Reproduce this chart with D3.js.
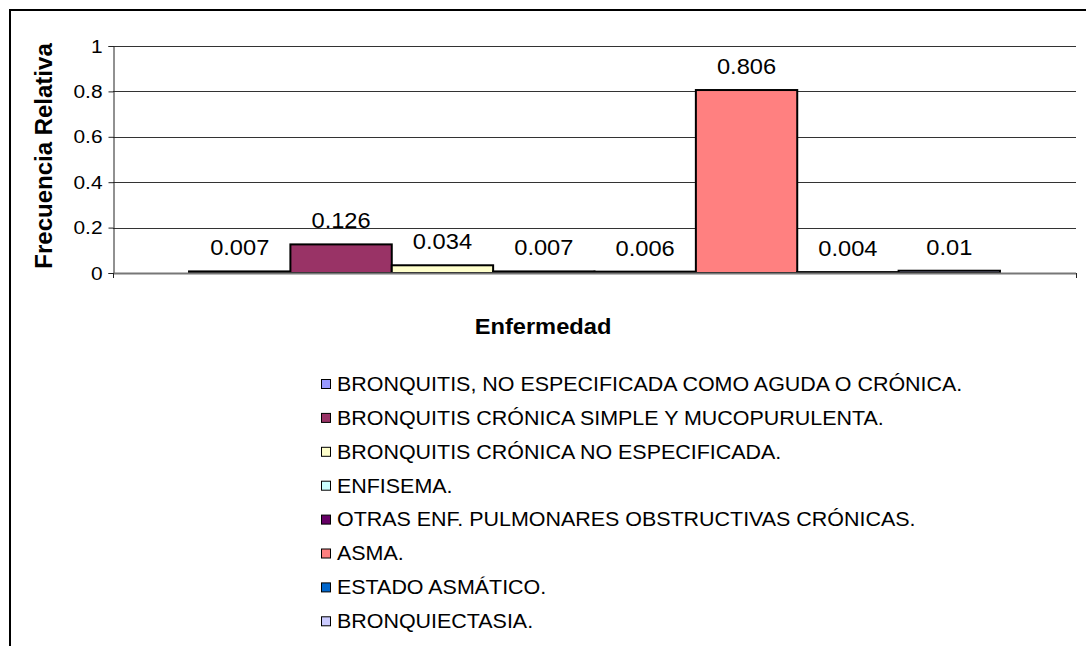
<!DOCTYPE html>
<html>
<head>
<meta charset="utf-8">
<script src="https://cdn.jsdelivr.net/npm/d3@7"></script>
<style>
  body { margin: 0; background: #fff; }
  text { font-family: Arial, "Liberation Sans", sans-serif; }
</style>
</head>
<body>
<div id="chart"></div>
<script>
// data
var categories = ["BRONQUITIS, NO ESPECIFICADA COMO AGUDA O CRÓNICA.",
                  "BRONQUITIS CRÓNICA SIMPLE Y MUCOPURULENTA.",
                  "BRONQUITIS CRÓNICA NO ESPECIFICADA.",
                  "ENFISEMA.",
                  "OTRAS ENF. PULMONARES OBSTRUCTIVAS CRÓNICAS.",
                  "ASMA.",
                  "ESTADO ASMÁTICO.",
                  "BRONQUIECTASIA."];
var values = [0.007, 0.126, 0.034, 0.007, 0.006, 0.806, 0.004, 0.01];
var colors = ["#9999FF", "#993366", "#FFFFCC", "#CCFFFF", "#660066", "#FF8080", "#0066CC", "#CCCCFF"];
var yTicks = [0, 0.2, 0.4, 0.6, 0.8, 1];

var W = 1086, H = 646;
var stretch = 1.1; // the original text is a little wider than Arial
// plot area
var margin = {top: 46, left: 113},
    width = 1076 - margin.left,
    height = 273 - margin.top;

var svg = d3.select("#chart").append("svg")
    .attr("width", W)
    .attr("height", H);

// chart frame
svg.append("rect")
    .attr("x", 10).attr("y", 10)
    .attr("width", W + 20).attr("height", H + 20)
    .attr("fill", "#fff")
    .attr("stroke", "#000")
    .attr("stroke-width", 2);

var g = svg.append("g")
    .attr("transform", "translate(" + margin.left + "," + margin.top + ")");

var y = d3.scaleLinear().domain([0, 1]).range([height, 0]);
// one category, eight series side by side, gap width 150%
var x = d3.scaleBand().domain(categories).range([0, width])
    .paddingInner(0).paddingOuter(0.75);

// gridlines
g.selectAll(".grid")
    .data(yTicks.filter(function(d) { return d > 0; }))
    .enter().append("line")
    .attr("x1", 0).attr("x2", width)
    .attr("y1", function(d) { return Math.round(y(d)) + 0.5; })
    .attr("y2", function(d) { return Math.round(y(d)) + 0.5; })
    .attr("stroke", "#333")
    .attr("stroke-width", 1);

// y axis
var yAxis = g.append("g")
    .attr("transform", "translate(0.5,0)")
    .call(d3.axisLeft(y).tickValues(yTicks).tickSize(5).tickPadding(5)
        .tickFormat(function(d) { return d3.format("")(d); }));
yAxis.select(".domain").attr("stroke", "#222");
yAxis.selectAll(".tick line").attr("stroke", "#222");
yAxis.selectAll("text")
    .attr("font-size", 19)
    .attr("fill", "#000")
    .attr("transform", "scale(" + stretch + ",1)")
    .style("font-family", "Arial, 'Liberation Sans', sans-serif");

// bars
var data = categories.map(function(c, i) { return {name: c, value: values[i], color: colors[i]}; });

g.selectAll(".bar")
    .data(data)
    .enter().append("rect")
    .attr("class", "bar")
    .attr("x", function(d) { return x(d.name); })
    .attr("width", x.bandwidth())
    .attr("y", function(d) { return y(d.value); })
    .attr("height", function(d) { return height - y(d.value); })
    .attr("fill", function(d) { return d.color; })
    .attr("stroke", "#000")
    .attr("stroke-width", 2);

// x axis line
g.append("line")
    .attr("x1", 0).attr("x2", width)
    .attr("y1", height + 0.5).attr("y2", height + 0.5)
    .attr("stroke", "#777")
    .attr("stroke-width", 2);
g.selectAll(".xtick")
    .data([0, width])
    .enter().append("line")
    .attr("x1", function(d) { return d + 0.5; }).attr("x2", function(d) { return d + 0.5; })
    .attr("y1", height).attr("y2", height + 5)
    .attr("stroke", "#222");

// value labels
g.selectAll(".value")
    .data(data)
    .enter().append("g")
    .attr("transform", function(d) {
        return "translate(" + (x(d.name) + x.bandwidth() / 2) + "," + (y(d.value) - 16) + ")";
    })
    .append("text")
    .attr("transform", "scale(" + stretch + ",1)")
    .attr("text-anchor", "middle")
    .attr("font-size", 21.5)
    .text(function(d) { return d3.format("")(d.value); });

// axis titles
svg.append("text")
    .attr("transform", "translate(52,156) rotate(-90)")
    .attr("text-anchor", "middle")
    .attr("font-size", 24)
    .attr("font-weight", "bold")
    .text("Frecuencia Relativa");

svg.append("g")
    .attr("transform", "translate(543,334)")
    .append("text")
    .attr("transform", "scale(" + stretch + ",1)")
    .attr("text-anchor", "middle")
    .attr("font-size", 21.5)
    .attr("font-weight", "bold")
    .text("Enfermedad");

// legend
var legend = svg.selectAll(".legend")
    .data(data)
    .enter().append("g")
    .attr("class", "legend")
    .attr("transform", function(d, i) { return "translate(321," + (384 + i * 33.9) + ")"; });

legend.append("rect")
    .attr("x", 0.5).attr("y", -4.5)
    .attr("width", 9).attr("height", 9)
    .attr("fill", function(d) { return d.color; })
    .attr("stroke", "#000");

legend.append("text")
    .attr("transform", "translate(16,0) scale(" + stretch + ",1)")
    .attr("dy", "0.35em")
    .attr("font-size", 19.5)
    .text(function(d) { return d.name; });
</script>
</body>
</html>
